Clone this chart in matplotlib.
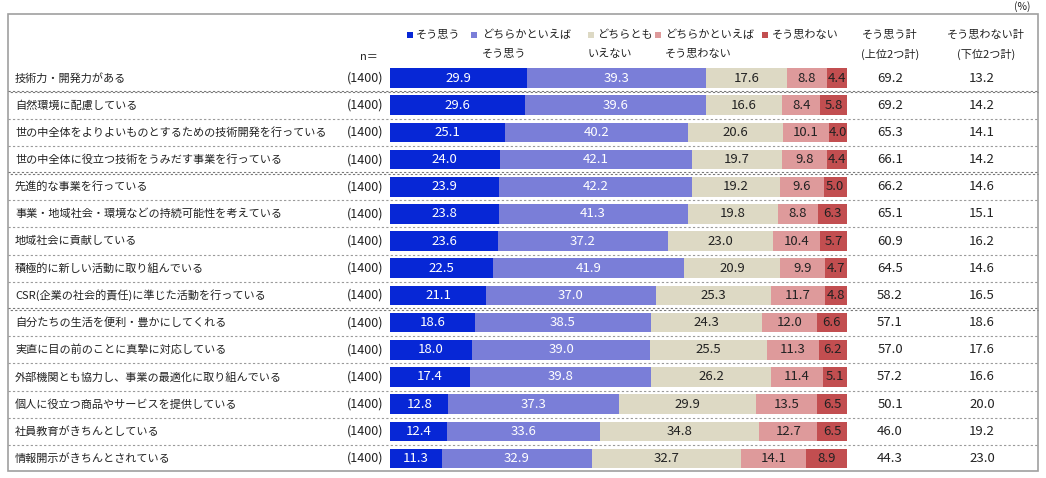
import numpy as np
import matplotlib.pyplot as plt
from matplotlib import transforms
from matplotlib.patches import Rectangle
from matplotlib.lines import Line2D

plt.rcParams['font.family'] = ['Noto Sans CJK JP', 'DejaVu Sans']

# data
labels = ["技術力・開発力がある",
          "自然環境に配慮している",
          "世の中全体をよりよいものとするための技術開発を行っている",
          "世の中全体に役立つ技術をうみだす事業を行っている",
          "先進的な事業を行っている",
          "事業・地域社会・環境などの持続可能性を考えている",
          "地域社会に貢献している",
          "積極的に新しい活動に取り組んでいる",
          "CSR(企業の社会的責任)に準じた活動を行っている",
          "自分たちの生活を便利・豊かにしてくれる",
          "実直に目の前のことに真摯に対応している",
          "外部機関とも協力し、事業の最適化に取り組んでいる",
          "個人に役立つ商品やサービスを提供している",
          "社員教育がきちんとしている",
          "情報開示がきちんとされている"]
n_counts = [1400] * 15
sou_omou = [29.9, 29.6, 25.1, 24.0, 23.9, 23.8, 23.6, 22.5, 21.1, 18.6, 18.0, 17.4, 12.8, 12.4, 11.3]
dochira_sou = [39.3, 39.6, 40.2, 42.1, 42.2, 41.3, 37.2, 41.9, 37.0, 38.5, 39.0, 39.8, 37.3, 33.6, 32.9]
dochiramo = [17.6, 16.6, 20.6, 19.7, 19.2, 19.8, 23.0, 20.9, 25.3, 24.3, 25.5, 26.2, 29.9, 34.8, 32.7]
dochira_nai = [8.8, 8.4, 10.1, 9.8, 9.6, 8.8, 10.4, 9.9, 11.7, 12.0, 11.3, 11.4, 13.5, 12.7, 14.1]
omowanai = [4.4, 5.8, 4.0, 4.4, 5.0, 6.3, 5.7, 4.7, 4.8, 6.6, 6.2, 5.1, 6.5, 6.5, 8.9]
top2 = [69.2, 69.2, 65.3, 66.1, 66.2, 65.1, 60.9, 64.5, 58.2, 57.1, 57.0, 57.2, 50.1, 46.0, 44.3]
bottom2 = [13.2, 14.2, 14.1, 14.2, 14.6, 15.1, 16.2, 14.6, 16.5, 18.6, 17.6, 16.6, 20.0, 19.2, 23.0]

series = [sou_omou, dochira_sou, dochiramo, dochira_nai, omowanai]
colors = ["#0727D6", "#7A7ED8", "#DDD9C4", "#DE9A9B", "#C24E50"]
text_colors = ["white", "white", "#222222", "#222222", "#222222"]
legend_lines = [("そう思う", ""), ("どちらかといえば", "そう思う"), ("どちらとも", "いえない"),
                ("どちらかといえば", "そう思わない"), ("そう思わない", "")]

W, H = 1046, 478
fig = plt.figure(figsize=(W / 100, H / 100), dpi=100)


def fx(px):
    return px / W


def fy(py):
    return 1 - py / H


# bar axes
row_top, row_step = 78.0, 27.18
ax_top = row_top - row_step / 2
ax_bot = row_top + row_step * 14 + row_step / 2
ax = fig.add_axes([fx(390), fy(ax_bot), fx(847) - fx(390), (ax_bot - ax_top) / H])
ax.set_xlim(0, 100)
ax.set_ylim(len(labels) - 0.5, -0.5)
ax.axis('off')

y = np.arange(len(labels))
left = np.zeros(len(labels))
for vals, c, tc in zip(series, colors, text_colors):
    vals = np.array(vals)
    ax.barh(y, vals, left=left, height=0.72, color=c, linewidth=0)
    for yi, (l, v) in enumerate(zip(left, vals)):
        ax.text(l + v / 2, yi, f"{v:.1f}", ha='center', va='center', fontsize=9.5, color=tc)
    left = left + vals

tr = transforms.blended_transform_factory(fig.transFigure, ax.transData)

for i, lab in enumerate(labels):
    fig.text(fx(15), i, lab, transform=tr, ha='left', va='center', fontsize=8, color='#222222')
    fig.text(fx(383), i, f"({n_counts[i]})", transform=tr, ha='right', va='center', fontsize=9, color='#222222')
    fig.text(fx(890), i, f"{top2[i]:.1f}", transform=tr, ha='center', va='center', fontsize=9.5, color='#222222')
    fig.text(fx(982), i, f"{bottom2[i]:.1f}", transform=tr, ha='center', va='center', fontsize=9.5, color='#222222')

# row separators
strong = {0, 3, 8}
for i in range(len(labels) - 1):
    yy = i + 0.5
    if i in strong:
        for off, ph in [(-0.03, 0), (0.03, 2)]:
            fig.add_artist(Line2D([fx(8), fx(1038)], [yy + off, yy + off], transform=tr,
                                  color='#777777', lw=0.8, linestyle=(ph, (2, 2))))
    else:
        fig.add_artist(Line2D([fx(8), fx(1038)], [yy, yy], transform=tr,
                              color='#9A9A9A', lw=0.8, linestyle=(0, (2, 2))))

# frame
fig.add_artist(Rectangle((fx(8), fy(471)), fx(1038) - fx(8), (471 - 14) / H,
                         transform=fig.transFigure, fill=False, edgecolor='#A0A0A0', lw=1.2))

# legend header
sq_x = [407, 471, 588, 655, 762]
txt_x = [416, 482, 597, 665, 772]
line2_x = [416, 482, 588, 665, 772]
for c, (l1, l2), sx, tx, t2 in zip(colors, legend_lines, sq_x, txt_x, line2_x):
    fig.add_artist(Rectangle((fx(sx), fy(38)), fx(6), 6 / H, transform=fig.transFigure,
                             color=c, linewidth=0))
    fig.text(fx(tx), fy(35), l1, ha='left', va='center', fontsize=8, color='#222222')
    if l2:
        fig.text(fx(t2), fy(54), l2, ha='left', va='center', fontsize=8, color='#222222')

fig.text(fx(890), fy(35), "そう思う計", ha='center', va='center', fontsize=8, color='#222222')
fig.text(fx(890), fy(54), "(上位2つ計)", ha='center', va='center', fontsize=8, color='#222222')
fig.text(fx(986), fy(35), "そう思わない計", ha='center', va='center', fontsize=8, color='#222222')
fig.text(fx(986), fy(54), "(下位2つ計)", ha='center', va='center', fontsize=8, color='#222222')
fig.text(fx(378), fy(57), "n＝", ha='right', va='center', fontsize=8, color='#222222')
fig.text(fx(1022), fy(7), "(%)", ha='center', va='center', fontsize=7.5, color='#222222')

fig.savefig("out.png", dpi=100)
